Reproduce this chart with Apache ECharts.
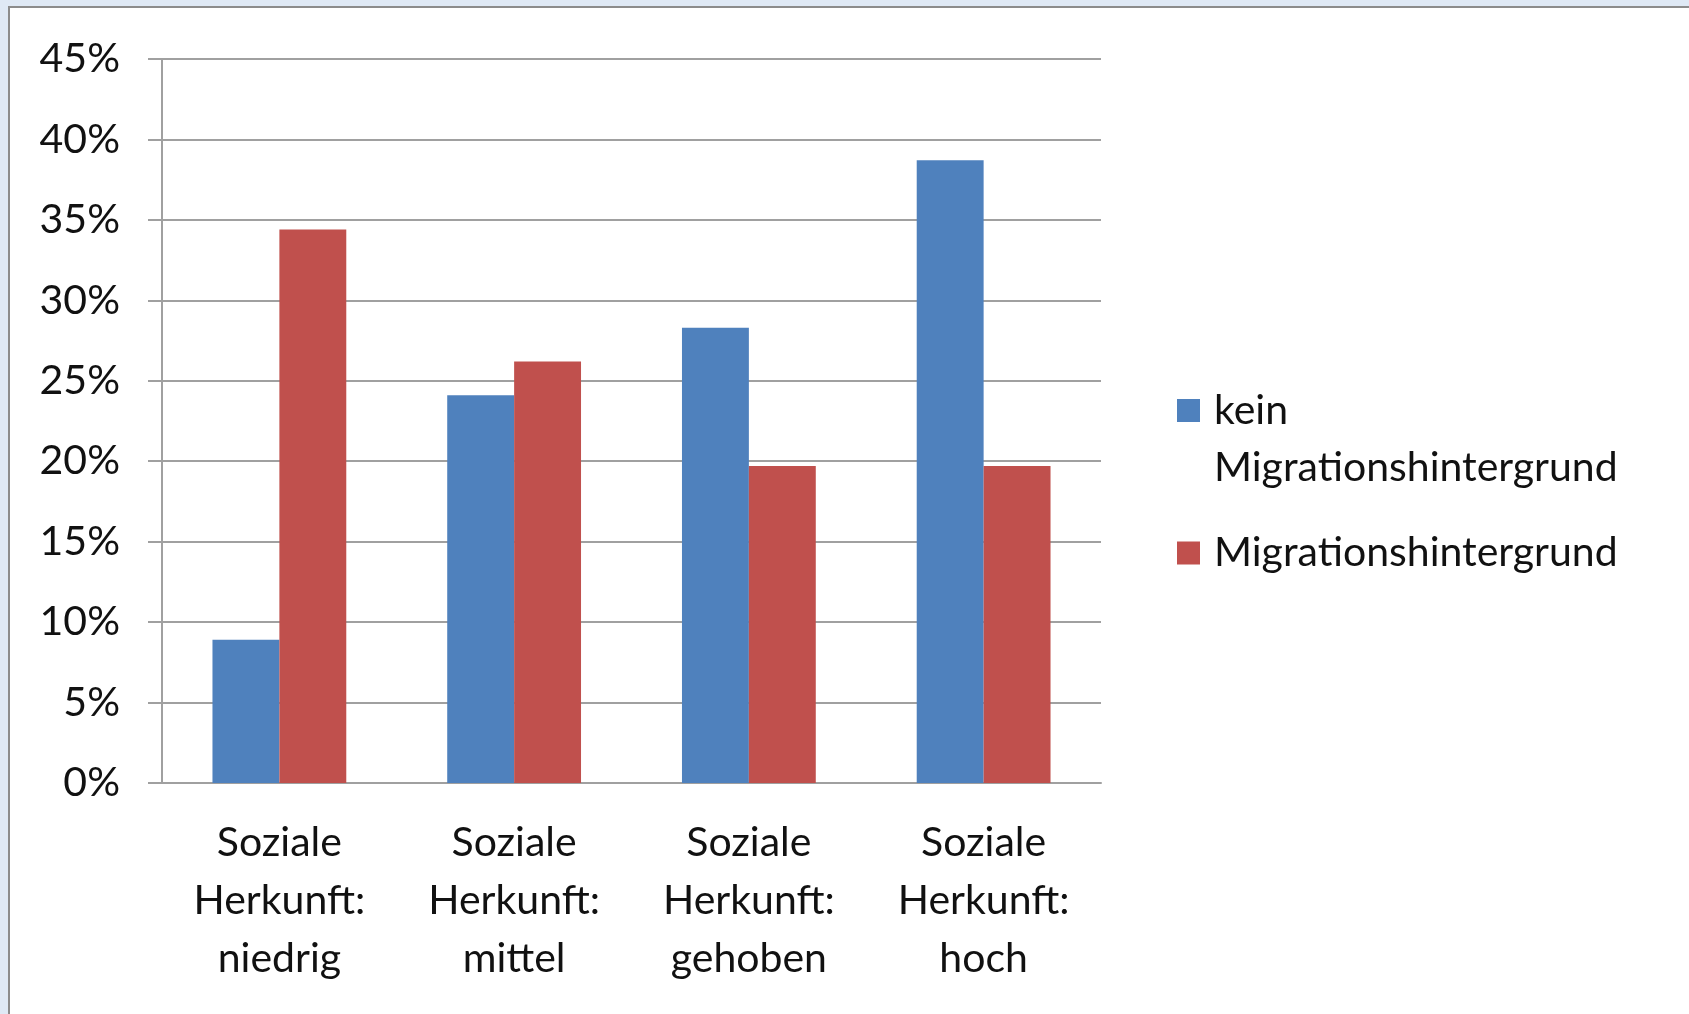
<!DOCTYPE html>
<html>
<head>
<meta charset="utf-8">
<script src="https://cdn.jsdelivr.net/npm/echarts@6/dist/echarts.min.js"></script>
<style>
  html, body { margin: 0; padding: 0; }
  #main { width: 1689px; height: 1014px; }
</style>
</head>
<body>
<div id="main"></div>
<script>
// categories and values (percent)
var categories = [
  'Soziale\nHerkunft:\nniedrig',
  'Soziale\nHerkunft:\nmittel',
  'Soziale\nHerkunft:\ngehoben',
  'Soziale\nHerkunft:\nhoch'
];
var keinMigration = [8.9, 24.1, 28.3, 38.7];
var mitMigration = [34.4, 26.2, 19.7, 19.7];
var seriesNames = ['kein Migrationshintergrund', 'Migrationshintergrund'];

var font = 'Lato';
var fontSize = 41;
var myChart = echarts.init(document.getElementById('main'));

var option = {
  backgroundColor: '#dfe9f5',
  animation: false,
  textStyle: { fontFamily: font },
  graphic: [{
    type: 'rect',
    z: -10,
    shape: { x: 9, y: 7, width: 1700, height: 1030 },
    style: { fill: '#ffffff', stroke: '#8c8c8c', lineWidth: 2 }
  }],
  grid: { left: 162, right: 588, top: 59, bottom: 231 },
  legend: {
    orient: 'vertical',
    left: 1177,
    top: 382,
    padding: 0,
    itemGap: 0,
    itemWidth: 23,
    itemHeight: 114,
    data: [
      { name: seriesNames[0], icon: 'path://M0,17H23V40H0Z M0,0H23V0Z M0,114H23V114Z' },
      { name: seriesNames[1], icon: 'path://M0,45.5H23V68.5H0Z M0,0H23V0Z M0,114H23V114Z' }
    ],
    formatter: function (name) {
      return name.replace('kein ', 'kein\n');
    },
    textStyle: {
      fontFamily: font,
      fontSize: fontSize,
      lineHeight: 57,
      color: '#111111',
      padding: [0, 0, 0, 9]
    }
  },
  xAxis: {
    type: 'category',
    data: categories,
    axisLine: { lineStyle: { color: '#a0a0a0', width: 2 } },
    axisTick: { length: 16, lineStyle: { color: '#a0a0a0', width: 2 } },
    axisLabel: {
      interval: 0,
      margin: 31,
      fontFamily: font,
      fontSize: fontSize,
      lineHeight: 58,
      color: '#111111'
    }
  },
  yAxis: {
    type: 'value',
    min: 0,
    max: 45,
    interval: 5,
    axisLine: { show: true, lineStyle: { color: '#a0a0a0', width: 2 } },
    axisTick: { show: true, length: 14, lineStyle: { color: '#a0a0a0', width: 2 } },
    splitLine: { lineStyle: { color: '#a0a0a0', width: 2 } },
    axisLabel: {
      formatter: '{value}%',
      margin: 42,
      fontFamily: font,
      fontSize: fontSize,
      color: '#111111'
    }
  },
  series: [
    {
      name: seriesNames[0],
      type: 'bar',
      data: keinMigration,
      barGap: '0%',
      barCategoryGap: '43%',
      itemStyle: { color: '#4f81bd' }
    },
    {
      name: seriesNames[1],
      type: 'bar',
      data: mitMigration,
      itemStyle: { color: '#c0504d' }
    }
  ]
};

myChart.setOption(option);
</script>
</body>
</html>
